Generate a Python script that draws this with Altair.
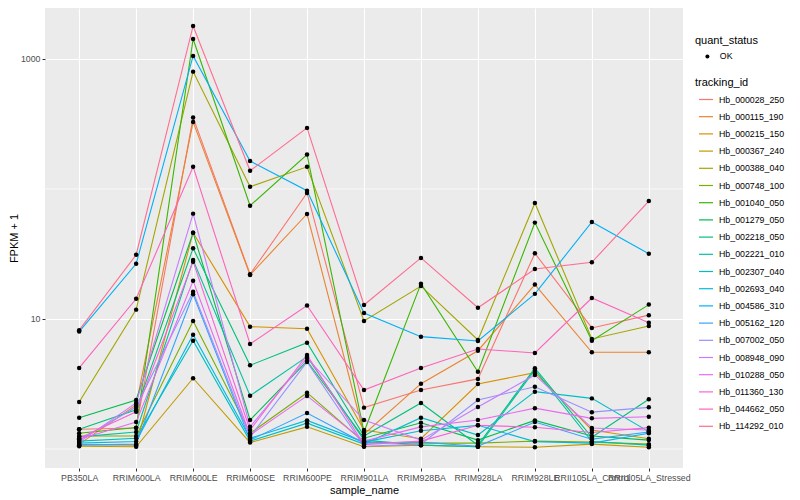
import altair as alt
import pandas as pd

samples = ["PB350LA", "RRIM600LA", "RRIM600LE", "RRIM600SE", "RRIM600PE",
           "RRIM901LA", "RRIM928BA", "RRIM928LA", "RRIM928LE",
           "RRII105LA_Control", "RRII105LA_Stressed"]

tracking_ids = ["Hb_000028_250", "Hb_000115_190", "Hb_000215_150", "Hb_000367_240",
                "Hb_000388_040", "Hb_000748_100", "Hb_001040_050", "Hb_001279_050",
                "Hb_002218_050", "Hb_002221_010", "Hb_002307_040", "Hb_002693_040",
                "Hb_004586_310", "Hb_005162_120", "Hb_007002_050", "Hb_008948_090",
                "Hb_010288_050", "Hb_011360_130", "Hb_044662_050", "Hb_114292_010"]

palette = ["#F8766D", "#EA8331", "#D89000", "#C09B00", "#A3A500", "#7CAE00", "#39B600",
           "#00BB4E", "#00BF7D", "#00C1A3", "#00BFC4", "#00BAE0", "#00B0F6", "#35A2FF",
           "#9590FF", "#C77CFF", "#E76BF3", "#FA62DB", "#FF62BC", "#FF6C91"]

# FPKM + 1 per sample (order as in `samples`)
hb_000028_250 = [1.42, 1.45, 354, 22.1, 93.2, 2.08, 2.84, 3.46, 32.0, 8.53, 10.7]
hb_000115_190 = [1.09, 2.18, 328, 21.8, 64.2, 1.30, 3.18, 5.70, 18.4, 5.54, 5.54]
hb_000215_150 = [1.08, 1.07, 46.1, 8.73, 8.42, 1.40, 1.20, 3.16, 3.86, 1.40, 1.20]
hb_000367_240 = [1.05, 1.04, 3.50, 1.12, 1.48, 1.04, 1.07, 1.04, 1.03, 1.09, 1.03]
hb_000388_040 = [2.30, 11.8, 799, 104, 148, 9.65, 17.9, 6.89, 78.0, 7.02, 8.84]
hb_000748_100 = [1.26, 1.26, 9.65, 1.32, 2.71, 1.13, 1.11, 1.11, 1.15, 1.13, 1.09]
hb_001040_050 = [1.32, 1.46, 1425, 74.4, 184, 1.35, 18.7, 3.93, 55.1, 6.81, 12.9]
hb_001279_050 = [1.74, 2.38, 46.1, 1.67, 4.75, 1.21, 1.59, 1.17, 1.66, 1.26, 1.17]
hb_002218_050 = [1.42, 2.00, 35.0, 4.40, 6.57, 1.26, 2.26, 1.07, 4.18, 1.23, 2.41]
hb_002221_010 = [1.24, 1.35, 28.4, 2.57, 5.13, 1.17, 1.07, 1.04, 4.05, 1.14, 1.07]
hb_002307_040 = [1.15, 1.21, 6.81, 1.15, 1.58, 1.09, 1.74, 1.28, 2.76, 2.45, 1.36]
hb_002693_040 = [1.11, 1.14, 7.57, 1.21, 1.66, 1.13, 1.38, 1.52, 1.14, 1.11, 1.32]
hb_004586_310 = [8.0, 26.6, 1055, 164, 97.0, 11.1, 7.31, 6.77, 15.6, 55.7, 31.8]
hb_005162_120 = [1.07, 1.09, 15.5, 1.17, 1.89, 1.11, 1.13, 1.05, 1.61, 1.19, 1.35]
hb_007002_050 = [1.17, 2.10, 16.2, 1.24, 4.67, 1.05, 1.09, 2.38, 3.01, 1.92, 2.09]
hb_008948_090 = [1.13, 2.26, 64.6, 1.48, 5.01, 1.67, 1.17, 2.10, 3.71, 1.45, 1.40]
hb_010288_050 = [1.19, 1.61, 19.7, 1.28, 2.56, 1.15, 1.48, 1.67, 2.06, 1.72, 1.77]
hb_011360_130 = [1.21, 1.93, 27.6, 1.40, 5.28, 1.08, 1.15, 1.52, 1.47, 1.34, 1.46]
hb_044662_050 = [4.20, 14.3, 148, 6.42, 12.7, 2.84, 4.20, 5.88, 5.48, 14.5, 9.37]
hb_114292_010 = [8.2, 31.2, 1794, 138, 295, 12.8, 29.5, 12.2, 24.2, 27.3, 80.8]

series_values = [hb_000028_250, hb_000115_190, hb_000215_150, hb_000367_240, hb_000388_040,
                 hb_000748_100, hb_001040_050, hb_001279_050, hb_002218_050, hb_002221_010,
                 hb_002307_040, hb_002693_040, hb_004586_310, hb_005162_120, hb_007002_050,
                 hb_008948_090, hb_010288_050, hb_011360_130, hb_044662_050, hb_114292_010]

y_breaks = [10, 1000]
minor_breaks = [1, 100]
y_domain = [0.714, 2466]

rows = []
for tid, vals in zip(tracking_ids, series_values):
    for s, v in zip(samples, vals):
        rows.append({"tracking_id": tid, "sample_name": s, "fpkm1": v, "quant_status": "OK"})
df = pd.DataFrame(rows)

yscale = alt.Scale(type="log", domain=y_domain, nice=False)
xenc = alt.X("sample_name:N", sort=samples,
             scale=alt.Scale(type="point", padding=0.6),
             axis=alt.Axis(title="sample_name", labelAngle=0, labelOverlap=False,
                           tickSize=3, tickColor="#333333", labelColor="#4D4D4D",
                           labelFontSize=8.8, labelPadding=2, titleFontSize=11,
                           titleFontWeight="normal", titleColor="black", titlePadding=3,
                           domain=False, grid=True, gridColor="white", gridWidth=1.1))
yaxis = alt.Axis(title="FPKM + 1", values=y_breaks, format="d",
                 tickSize=3, tickColor="#333333", labelColor="#4D4D4D",
                 labelFontSize=8.8, labelPadding=2, titleFontSize=11,
                 titleFontWeight="normal", titleColor="black", titlePadding=2,
                 minExtent=24, maxExtent=24,
                 domain=False, grid=True, gridColor="white", gridWidth=1.1)
yenc = alt.Y("fpkm1:Q", scale=yscale, axis=yaxis)

minor = alt.Chart(pd.DataFrame({"fpkm1": minor_breaks})).mark_rule(
    color="white", strokeWidth=0.7
).encode(y=yenc)

lines = alt.Chart(df).mark_line(strokeWidth=1.1).encode(
    x=xenc, y=yenc,
    stroke=alt.Stroke("tracking_id:N",
                      scale=alt.Scale(domain=tracking_ids, range=palette),
                      legend=alt.Legend(title="tracking_id", orient="none",
                                        legendX=650, legendY=69, padding=0,
                                        symbolType="stroke", symbolSize=196,
                                        symbolStrokeWidth=1.2, symbolOffset=3,
                                        labelOffset=5, rowPadding=4.2, titlePadding=3.5,
                                        labelFontSize=8.8, labelColor="black",
                                        titleFontSize=11, titleFontWeight="normal",
                                        titleColor="black", labelLimit=200)),
    detail="tracking_id:N",
)

points = alt.Chart(df).mark_point(filled=True, size=20, opacity=1).encode(
    x=xenc, y=yenc,
    fill=alt.Fill("quant_status:N",
                  scale=alt.Scale(domain=["OK"], range=["black"]),
                  legend=alt.Legend(title="quant_status", orient="none",
                                    legendX=650, legendY=27, padding=0,
                                    symbolType="circle", symbolSize=16, symbolOffset=8,
                                    labelOffset=8, titlePadding=6,
                                    labelFontSize=8.8, labelColor="black",
                                    titleFontSize=11, titleFontWeight="normal",
                                    titleColor="black")),
)

chart = alt.layer(minor, lines, points).properties(
    width=638, height=460, padding=0
).configure(
    font="Liberation Sans", background="white"
).configure_view(fill="#EBEBEB", strokeWidth=0)

chart.save("out.html", embed_options={"renderer": "svg", "actions": False})
